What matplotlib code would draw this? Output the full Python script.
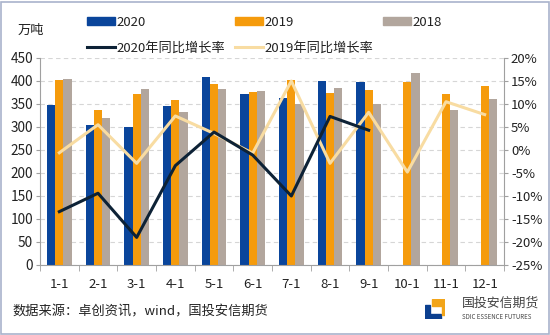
import numpy as np
import matplotlib.pyplot as plt
from matplotlib.patches import Rectangle, Polygon
from matplotlib.lines import Line2D
from matplotlib.ticker import FuncFormatter, MultipleLocator

plt.rcParams['font.family'] = ['Noto Sans CJK SC', 'DejaVu Sans']

months = ['1-1', '2-1', '3-1', '4-1', '5-1', '6-1', '7-1', '8-1', '9-1', '10-1', '11-1', '12-1']
v2020 = [348, 304, 301, 346, 409, 371, 362, 401, 397]
v2019 = [402, 337, 371, 359, 393, 375, 402, 373, 380, 398, 372, 389]
v2018 = [404, 319, 382, 333, 383, 378, 351, 385, 351, 417, 337, 361]
yoy2020 = [-13.4, -9.4, -19.0, -3.4, 3.9, -1.1, -10.0, 7.3, 4.3]
yoy2019 = [-0.6, 5.5, -2.9, 7.4, 3.6, -0.7, 15.0, -2.9, 8.2, -4.8, 10.5, 7.7]

c2020 = '#0A459B'
c2019 = '#F59B0C'
c2018 = '#B2A69D'
cl2020 = '#0D2236'
cl2019 = '#F8DCA2'
axis_grey = '#A0A0A0'
txt = '#222222'

W, H = 550, 335
fig = plt.figure(figsize=(W / 100, H / 100), dpi=100)
ax = fig.add_axes([40 / W, 1 - 265 / H, 464 / W, 207 / H])

x = np.arange(len(months))
bw = 0.215
ax.bar(x[:len(v2020)] - bw, v2020, bw, color=c2020, zorder=2)
ax.bar(x, v2019, bw, color=c2019, zorder=2)
ax.bar(x + bw, v2018, bw, color=c2018, zorder=2)

ax.set_xlim(-0.5, len(months) - 0.5)
ax.set_ylim(0, 450)
ax.yaxis.set_major_locator(MultipleLocator(50))
ax.set_xticks(x)
ax.set_xticklabels(months)
ax.set_xticks(np.arange(-0.5, len(months)), minor=True)
ax.tick_params(axis='x', which='major', length=0, pad=9, labelsize=9.5, colors=txt)
ax.tick_params(axis='x', which='minor', length=4, color=axis_grey, direction='out')
ax.tick_params(axis='y', length=3, color=axis_grey, labelsize=9.8, labelcolor=txt, pad=2)
ax.grid(axis='y', color='#D6D6D6', linestyle=(0, (4, 3)), linewidth=0.8, zorder=0)
for s in ['top', 'right']:
    ax.spines[s].set_visible(False)
for s in ['left', 'bottom']:
    ax.spines[s].set_color(axis_grey)

ax2 = ax.twinx()
ax2.plot(x[:len(yoy2019)], yoy2019, color=cl2019, lw=2.2, zorder=3)
ax2.plot(x[:len(yoy2020)], yoy2020, color=cl2020, lw=2.2, zorder=4)
ax2.set_ylim(-25, 20)
ax2.yaxis.set_major_locator(MultipleLocator(5))
ax2.yaxis.set_major_formatter(FuncFormatter(lambda v, p: f'{v:.0f}%'))
ax2.tick_params(axis='y', length=3, color=axis_grey, labelsize=9.5, labelcolor=txt, pad=2)
for s in ['top', 'left', 'bottom']:
    ax2.spines[s].set_visible(False)
ax2.spines['right'].set_color(axis_grey)

# legend: one small legend per column so the columns sit at fixed positions
columns = [
    (87, [Rectangle((0, 0), 1, 1, color=c2020), Line2D([], [], color=cl2020, lw=2.2)],
     ['2020', '2020年同比增长率']),
    (235, [Rectangle((0, 0), 1, 1, color=c2019), Line2D([], [], color=cl2019, lw=2.2)],
     ['2019', '2019年同比增长率']),
    (383, [Rectangle((0, 0), 1, 1, color=c2018)], ['2018']),
]
for xpix, hs, ls in columns:
    leg = fig.legend(hs, ls, loc='upper left', bbox_to_anchor=(xpix / W, 1 - 16 / H),
                     frameon=False, fontsize=9.5, handlelength=2.15, handleheight=0.55,
                     handletextpad=0.1, labelspacing=0.95, borderaxespad=0, borderpad=0)
    for t in leg.get_texts():
        t.set_color(txt)

fig.text(18 / W, 1 - 30 / H, '万吨', fontsize=9.5, va='center', ha='left', color=txt)
fig.text(12 / W, 1 - 312 / H, '数据来源：卓创资讯，wind，国投安信期货', fontsize=9.5,
         va='center', ha='left', color=txt)

# company logo at bottom right
lg = fig.add_axes([425 / W, 1 - 319 / H, 20 / W, 20 / H])
lg.set_xlim(0, 20)
lg.set_ylim(0, 20)
lg.axis('off')
lg.add_patch(Polygon([(0, 0), (16, 0), (16, 5), (5, 5), (5, 14), (0, 14)], closed=True, color='#0B3F8F'))
lg.add_patch(Polygon([(7, 13), (7, 20), (20, 20), (20, 4), (17, 4), (17, 13)], closed=True, color='#F2A51A'))
fig.text(462 / W, 1 - 303 / H, '国投安信期货', fontsize=9.3, va='center', ha='left', color='#444444')
fig.text(462 / W, 1 - 317 / H, 'SDIC ESSENCE FUTURES', fontsize=4.4, va='center', ha='left', color='#444444')

# thin frame around the whole figure
fig.patches.append(Rectangle((1 / W, 1 / H), 1 - 2 / W, 1 - 3 / H, transform=fig.transFigure,
                             fill=False, edgecolor='#A9B3CC', linewidth=1.2))

fig.savefig('out.png', dpi=100)
